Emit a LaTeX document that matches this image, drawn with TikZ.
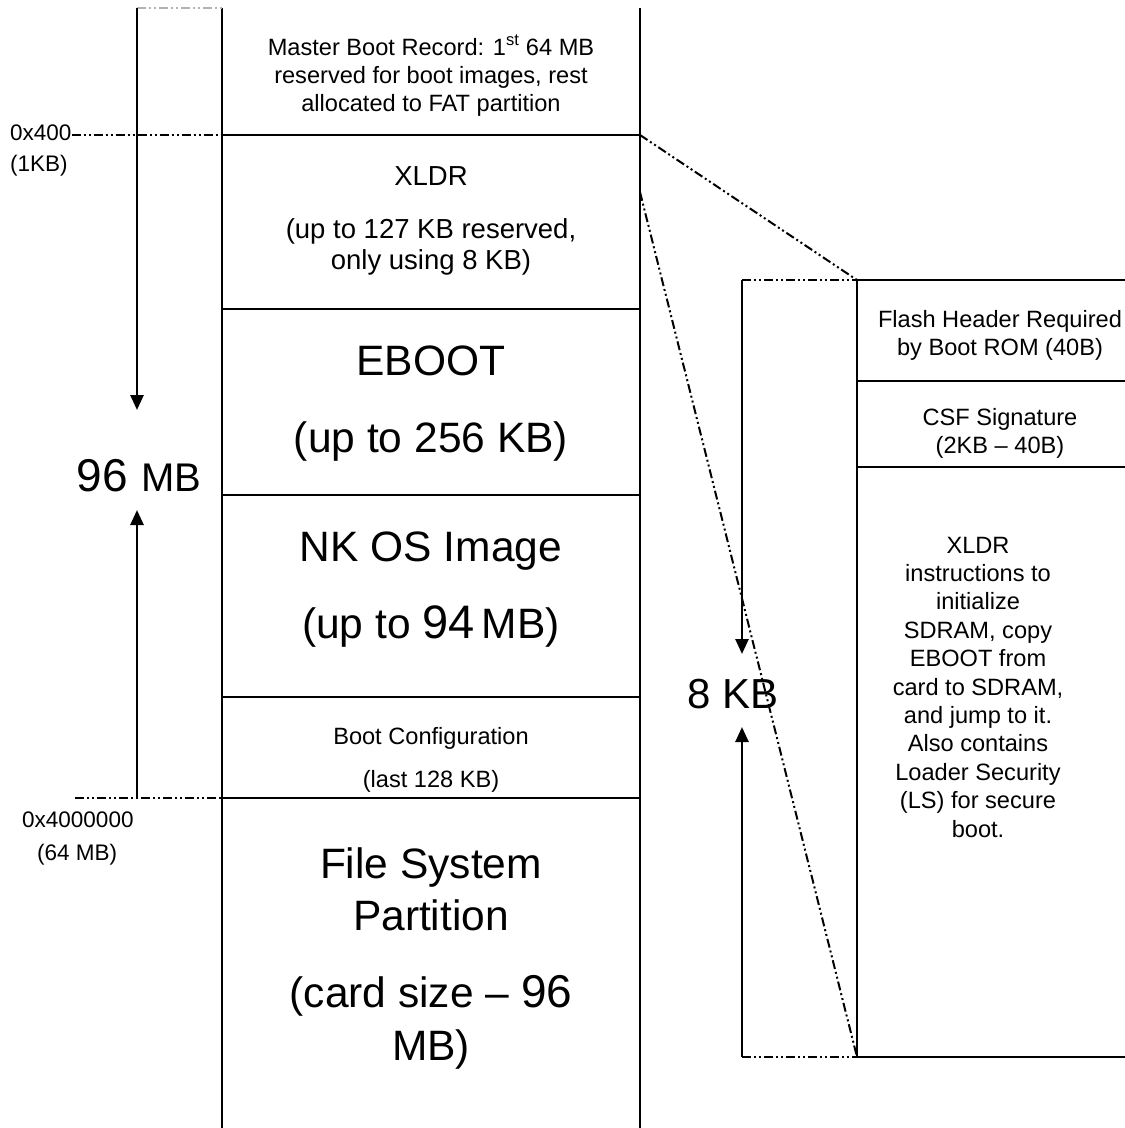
\documentclass[tikz,border=0pt]{standalone}
\usepackage{fontspec}
\setmainfont{Liberation Sans}
\usetikzlibrary{arrows.meta, calc, positioning}

\begin{document}
\begin{tikzpicture}[x=1pt, y=-1pt, inner sep=0pt,
  small/.style={font=\fontsize{23.6}{28}\selectfont, align=center, anchor=base},
  mid/.style={font=\fontsize{27.5}{31}\selectfont, align=center, anchor=base},
  large/.style={font=\fontsize{42.5}{77}\selectfont, align=center, anchor=base},
  addr/.style={font=\fontsize{22.5}{28}\selectfont, anchor=base west},
  wall/.style={line width=1.3pt},
  span/.style={line width=2.6pt, -{Triangle[length=15pt, width=13pt]}},
  guide/.style={line width=2pt, dash pattern=on 9pt off 3pt on 2pt off 3pt on 2pt off 3pt}]
\useasboundingbox (0,0) rectangle (1125,1128);

% card layout column (nodes sit on the baseline of their last line)
\coordinate (top l) at (222,8);
\coordinate (top r) at (640,8);
\coordinate (bot l) at (222,1128);
\coordinate (bot r) at (640,1128);
\draw[wall] (top l) -- (bot l);
\draw[wall] (top r) -- (bot r);
\foreach \y [count=\i] in {135,309,495,697,798} {
  \coordinate (sep\i) at (222,\y);
  \coordinate (sep\i r) at (640,\y);
  \draw[wall] (sep\i) -- (sep\i r);
}

\node[small] (mbr) at (431,111) {Master Boot Record: 1\textsuperscript{st} 64 MB\\reserved for boot images, rest\\allocated to FAT partition};
\node[mid] (xldr) at (431,185) {XLDR};
\node[mid] (xldrnote) at (431,269) {(up to 127 KB reserved,\\only using 8 KB)};
\node[large] (eboot) at (431,452) {EBOOT\\(up to 256 KB)};
\node[large] (nkos) at (431,638) {NK OS Image\\(up to {\fontsize{47}{77}\selectfont 94}\,MB)};
\node[small, font=\fontsize{23.6}{43}\selectfont] (bootcfg) at (431,787) {Boot Configuration\\(last 128 KB)};
\node[large, font=\fontsize{42.5}{52}\selectfont] (fsys) at (431,930) {File System\\Partition};
\node[large, font=\fontsize{42.5}{53}\selectfont] (fsize) at (431,1060) {(card size -- {\fontsize{46}{53}\selectfont 96}\\MB)};

% addresses and total size
\node[addr] (a400) at (10,140) {0x400};
\node[addr] (a400kb) at (10,171) {(1KB)};
\node[addr] (a4m) at (22,827) {0x4000000};
\node[addr] (a4mmb) at (37,860) {(64 MB)};
\draw[guide] (a400.east |- sep1) -- (sep1);
\draw[guide] (75,798) coordinate (g96) -- (sep5);
\draw[guide, gray!60] (137,8) coordinate (t96) -- (top l);
\node[anchor=base] (mb96) at (139,491) {{\fontsize{46}{46}\selectfont 96}\hspace{13pt}{\fontsize{40}{40}\selectfont MB}};
\draw[span] (t96) -- (137,410);
\draw[span] (137,798) -- (137,510);

% zoom of the XLDR area
\coordinate (kb top) at (742,280);
\coordinate (kb bot) at (742,1057);
\coordinate (hdr tl) at (857,280);
\coordinate (hdr bl) at (857,1057);
\draw[wall] (hdr tl) -- (hdr bl);
\foreach \y in {280,381,467,1057}
  \draw[wall] (857,\y) -- (1125,\y);
\draw[guide] (kb top) -- (hdr tl);
\draw[guide] (kb bot) -- (hdr bl);
\draw[guide] (sep1r) -- (hdr tl);
\draw[guide] (640,192) -- (hdr bl);
\draw[span] (kb top) -- (742,654);
\draw[span] (kb bot) -- (742,727);
\node[anchor=base, font=\fontsize{42}{42}\selectfont] (kb8) at (733,708) {8 KB};

\node[small] (flash) at (1000,355) {Flash Header Required\\by Boot ROM (40B)};
\node[small] (csf) at (1000,453) {CSF Signature\\(2KB -- 40B)};
\node[small, font=\fontsize{23.6}{28.4}\selectfont] (xldrcode) at (978,837) {XLDR\\instructions to\\initialize\\SDRAM, copy\\EBOOT from\\card to SDRAM,\\and jump to it.\\Also contains\\Loader Security\\(LS) for secure\\boot.};
\end{tikzpicture}
\end{document}
